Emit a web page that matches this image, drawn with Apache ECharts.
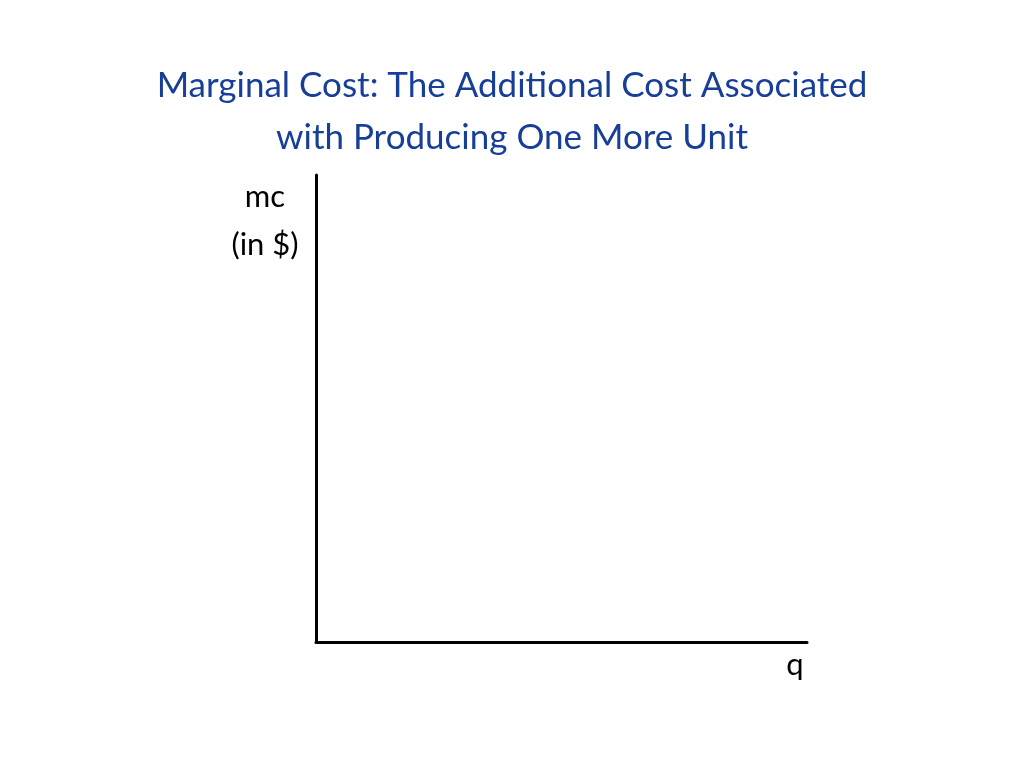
<!DOCTYPE html>
<html><head><meta charset="utf-8">
<script src="https://cdn.jsdelivr.net/npm/echarts@6/dist/echarts.min.js"></script>
<style>html,body{margin:0;padding:0;background:#fff}#c{width:1024px;height:768px}</style>
</head><body><div id="c"></div>
<script>
const titleLines = ['Marginal Cost: The Additional Cost Associated', 'with Producing One More Unit'];
const yLabelLines = ['mc', '(in $)'];
const xLabel = 'q';
const curvePoints = []; // the reference shows empty axes
const font = 'Lato, "Open Sans", sans-serif';
const chart = echarts.init(document.getElementById('c'));
chart.setOption({
  backgroundColor: '#fff',
  title: {text: titleLines.join('\n'), left: 'center', top: 55,
    textStyle: {color: '#173f97', fontSize: 35, fontWeight: 'normal', fontFamily: font, lineHeight: 52}},
  grid: {left: 316, top: 175, right: 217, bottom: 126},
  xAxis: {type: 'value', min: 0, max: 10, axisLine: {lineStyle: {color: '#000', width: 3}},
    axisTick: {show: false}, axisLabel: {show: false}, splitLine: {show: false}},
  yAxis: {type: 'value', min: 0, max: 10, axisLine: {show: true, lineStyle: {color: '#000', width: 3}},
    axisTick: {show: false}, axisLabel: {show: false}, splitLine: {show: false}},
  graphic: [
    {type: 'text', left: 0, top: 0, style: {text: '', fill: '#000'}},
    {type: 'text', x: 265, y: 197, style: {text: yLabelLines[0], fill: '#000', font: '31px ' + font, textAlign: 'center', textVerticalAlign: 'middle'}},
    {type: 'text', x: 265, y: 245, style: {text: yLabelLines[1], fill: '#000', font: '31px ' + font, textAlign: 'center', textVerticalAlign: 'middle'}},
    {type: 'text', x: 795, y: 665, style: {text: xLabel, fill: '#000', font: '31px ' + font, textAlign: 'center', textVerticalAlign: 'middle'}}
  ],
  series: [{type: 'line', data: curvePoints}]
});
</script></body></html>
